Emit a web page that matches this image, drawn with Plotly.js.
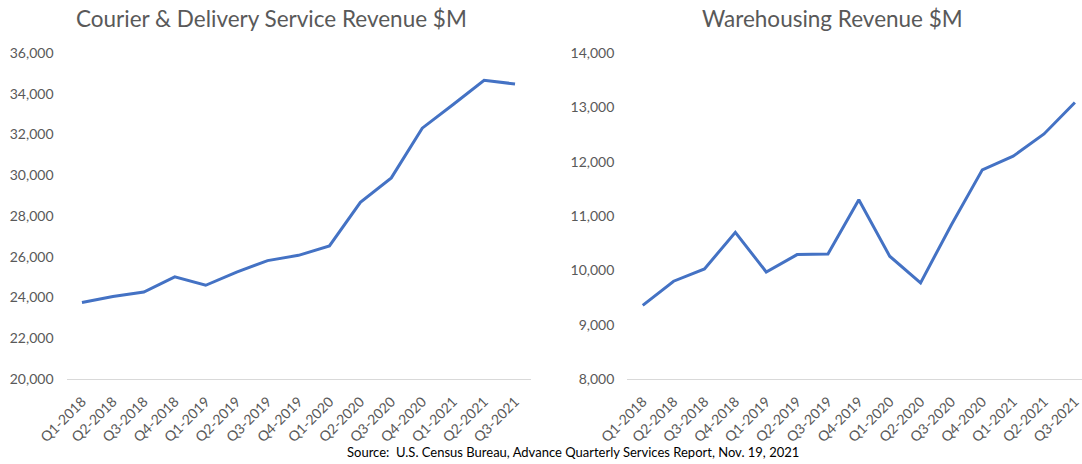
<!DOCTYPE html>
<html>
<head>
<meta charset="utf-8">
<script src="https://cdn.plot.ly/plotly-3.0.1.min.js"></script>
<style>html,body{margin:0;padding:0;background:#fff;}#chart{width:1082px;height:464px;}</style>
</head>
<body>
<div id="chart"></div>
<script>
const quarters = ["Q1-2018","Q2-2018","Q3-2018","Q4-2018","Q1-2019","Q2-2019","Q3-2019","Q4-2019","Q1-2020","Q2-2020","Q3-2020","Q4-2020","Q1-2021","Q2-2021","Q3-2021"];
const courierRevenue = [23750, 24050, 24270, 25010, 24600, 25250, 25810, 26070, 26530, 28670, 29870, 32310, 33470, 34660, 34480];
const warehousingRevenue = [9356, 9800, 10025, 10700, 9970, 10290, 10300, 11300, 10260, 9770, 10840, 11850, 12100, 12510, 13090];
const leftTitle = "Courier &amp; Delivery Service Revenue $M";
const rightTitle = "Warehousing Revenue $M";
const sourceText = "Source:  U.S. Census Bureau, Advance Quarterly Services Report, Nov. 19, 2021";

const FONT = "Lato, 'Open Sans', sans-serif";
const lineStyle = {color: "#4472C4", width: 3};

const traces = [
  {x: quarters, y: courierRevenue, type: "scatter", mode: "lines", line: lineStyle, xaxis: "x", yaxis: "y", hoverinfo: "x+y"},
  {x: quarters, y: warehousingRevenue, type: "scatter", mode: "lines", line: lineStyle, xaxis: "x2", yaxis: "y2", hoverinfo: "x+y"}
];

const xBase = {
  type: "category",
  showgrid: false, zeroline: false, showline: true, linecolor: "#d9d9d9", linewidth: 1,
  ticks: "", tickangle: -45, ticklabelstandoff: 8,
  tickfont: {family: FONT, size: 14, color: "#595959"}, fixedrange: true
};
const yBase = {
  showgrid: false, zeroline: false, showline: false, ticks: "", tickformat: ",d",
  tickfont: {family: FONT, size: 14, color: "#595959"}, ticklabelstandoff: 12, fixedrange: true
};

const layout = {
  width: 1082, height: 464,
  margin: {l: 0, r: 0, t: 53, b: 85},
  paper_bgcolor: "#fff", plot_bgcolor: "#fff",
  showlegend: false,
  font: {family: FONT},
  xaxis: Object.assign({}, xBase, {domain: [66.5/1082, 530.5/1082], range: [-0.5, quarters.length - 0.5], anchor: "y"}),
  yaxis: Object.assign({}, yBase, {range: [20000, 36000], dtick: 2000, anchor: "x"}),
  xaxis2: Object.assign({}, xBase, {domain: [627.3/1082, 1], range: [-0.5, quarters.length - 0.77], anchor: "y2"}),
  yaxis2: Object.assign({}, yBase, {range: [8000, 14000], dtick: 1000, anchor: "x2"}),
  annotations: [
    {text: leftTitle, xref: "paper", yref: "paper", x: 271/1082, y: 1, yshift: 35, xanchor: "center", yanchor: "middle", showarrow: false, font: {family: FONT, size: 22.5, color: "#595959"}},
    {text: rightTitle, xref: "paper", yref: "paper", x: 832/1082, y: 1, yshift: 35, xanchor: "center", yanchor: "middle", showarrow: false, font: {family: FONT, size: 22.5, color: "#595959"}},
    {text: sourceText, xref: "paper", yref: "paper", x: 573/1082, y: 0, yshift: -73, xanchor: "center", yanchor: "middle", showarrow: false, font: {family: FONT, size: 13, color: "#000"}}
  ]
};

Plotly.newPlot("chart", traces, layout, {displayModeBar: false, staticPlot: true});
</script>
</body>
</html>
